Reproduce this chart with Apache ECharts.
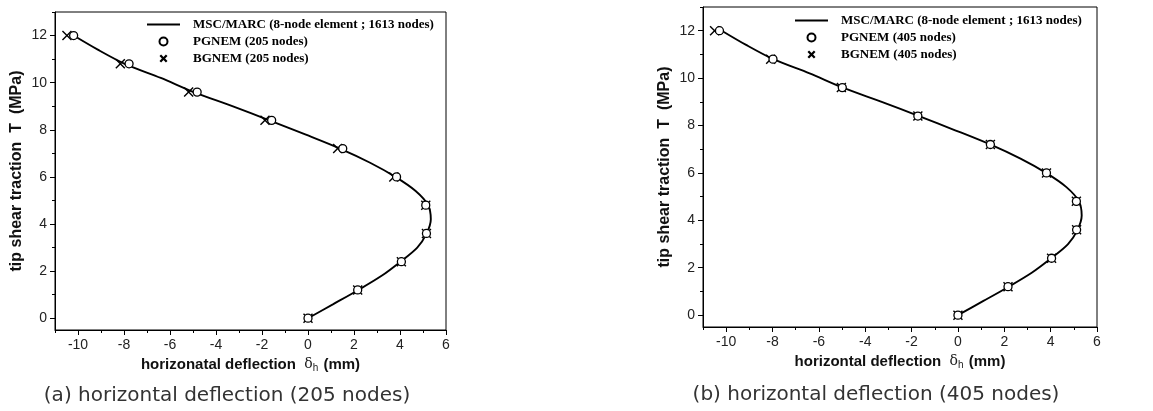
<!DOCTYPE html>
<html>
<head>
<meta charset="utf-8">
<script src="https://cdn.jsdelivr.net/npm/echarts@6/dist/echarts.min.js"></script>
<style>html,body{margin:0;padding:0;background:#fff;}#c{width:1153px;height:411px;}</style>
</head>
<body>
<div id="c"></div>
<script>
// ---- data ----
const traction = [0, 1.2, 2.4, 3.6, 4.8, 6.0, 7.2, 8.4, 9.6, 10.8, 12.0];
const pgnemA = [0, 2.16, 4.06, 5.15, 5.12, 3.85, 1.51, -1.58, -4.82, -7.78, -10.19];
const bgnemA = [0, 2.16, 4.06, 5.15, 5.12, 3.73, 1.29, -1.87, -5.19, -8.16, -10.48];
const pgnemB = [0, 2.16, 4.04, 5.12, 5.11, 3.82, 1.40, -1.73, -4.99, -7.98, -10.29];
const bgnemB = [0, 2.16, 4.04, 5.12, 5.11, 3.82, 1.40, -1.73, -5.03, -8.08, -10.50];
const mscT = [0, 0.6, 1.2, 1.8, 2.4, 3.0, 3.6, 4.2, 4.8, 5.4, 6.0, 6.6, 7.2, 7.8, 8.4, 9.0, 9.6, 10.2, 10.8, 11.4, 12.0];
const mscX = [0, 1.1, 2.19, 3.2, 4.02, 4.75, 5.16, 5.34, 5.22, 4.68, 3.8, 2.7, 1.39, -0.12, -1.68, -3.29, -4.97, -6.4, -7.97, -9.14, -10.19];
const xMajorTicks = [-10, -8, -6, -4, -2, 0, 2, 4, 6];
const xMinorTicks = [-11, -9, -7, -5, -3, -1, 1, 3, 5];
const yMajorTicks = [0, 2, 4, 6, 8, 10, 12];
const yMinorTicks = [1, 3, 5, 7, 9, 11, 13];
const nameMSC = 'MSC/MARC (8-node element ; 1613 nodes)';
const namesA = ['PGNEM (205 nodes)', 'BGNEM (205 nodes)'];
const namesB = ['PGNEM (405 nodes)', 'BGNEM (405 nodes)'];
const xTitles = ['horizonatal deflection', 'horizontal deflection'];
const yTitle = 'tip shear traction  T  (MPa)';
const captions = ['(a) horizontal deflection (205 nodes)', '(b) horizontal deflection (405 nodes)'];

const pair = (xs, ys) => xs.map((x, i) => [x, ys[i]]);
const X_THIN = 'path://M0,1 L1,0 L5,4 L9,0 L10,1 L6,5 L10,9 L9,10 L5,6 L1,10 L0,9 L4,5 Z';
const X_BOLD = 'path://M0,2 L2,0 L5,3 L8,0 L10,2 L7,5 L10,8 L8,10 L5,7 L2,10 L0,8 L3,5 Z';
const LINE_ICON = 'path://M0,0 L33,0 L33,2 L0,2 Z';

const grids = [
  {left: 55, right: 707, top: 12, bottom: 81},
  {left: 703, right: 56, top: 7, bottom: 84}
];
const tickFont = {fontFamily: 'Liberation Sans', fontSize: 14, color: '#222'};

const xAxes = [], yAxes = [];
grids.forEach((g, i) => {
  xAxes.push({
    type: 'value', gridIndex: i, min: -11, max: 6, position: 'bottom',
    name: '{b|' + xTitles[i] + '  }{d|δ}{s|h}{b| (mm)}',
    nameLocation: 'middle', nameGap: 25,
    nameTextStyle: {rich: {
      b: {fontFamily: 'Liberation Sans', fontWeight: 'bold', fontSize: 15, color: '#111', lineHeight: 18},
      d: {fontFamily: 'DejaVu Serif', fontSize: 14, color: '#222', lineHeight: 18},
      s: {fontFamily: 'Liberation Sans', fontSize: 10, color: '#222', lineHeight: 18, verticalAlign: 'bottom', padding: [0, 1, 0, 0]}
    }},
    axisLine: {show: true, onZero: false, lineStyle: {color: '#000', width: 1}},
    axisTick: {show: true, length: 5, customValues: xMajorTicks, lineStyle: {color: '#000'}},
    axisLabel: {customValues: xMajorTicks, margin: 8, ...tickFont},
    splitLine: {show: false}
  });
  xAxes.push({
    type: 'value', gridIndex: i, min: -11, max: 6, position: 'bottom',
    axisLine: {show: false, onZero: false},
    axisTick: {show: true, length: 3, customValues: xMinorTicks, lineStyle: {color: '#000'}},
    axisLabel: {show: false}, splitLine: {show: false}
  });
  yAxes.push({
    type: 'value', gridIndex: i, min: -0.5, max: 13, position: 'left',
    name: yTitle, nameLocation: 'middle', nameGap: 30,
    nameTextStyle: {fontFamily: 'Liberation Sans', fontWeight: 'bold', fontSize: 16, color: '#111'},
    axisLine: {show: true, onZero: false, lineStyle: {color: '#000', width: 1}},
    axisTick: {show: true, length: 5, customValues: yMajorTicks, lineStyle: {color: '#000'}},
    axisLabel: {customValues: yMajorTicks, margin: 8, ...tickFont},
    splitLine: {show: false}
  });
  yAxes.push({
    type: 'value', gridIndex: i, min: -0.5, max: 13, position: 'left',
    axisLine: {show: false, onZero: false},
    axisTick: {show: true, length: 3, customValues: yMinorTicks, lineStyle: {color: '#000'}},
    axisLabel: {show: false}, splitLine: {show: false}
  });
});

function panelSeries(i, pg, bg, names) {
  return [
    {
      name: nameMSC, type: 'line', xAxisIndex: 2 * i, yAxisIndex: 2 * i,
      data: pair(mscX, mscT), smooth: 0.3, symbol: 'none', color: '#000',
      lineStyle: {color: '#000', width: 1.9}, z: 2
    },
    {
      name: names[0], type: 'scatter', xAxisIndex: 2 * i, yAxisIndex: 2 * i,
      data: pair(pg, traction), symbol: 'circle', symbolSize: 8,
      itemStyle: {color: '#fff', borderColor: '#000', borderWidth: 1.3, opacity: 1}, z: 4
    },
    {
      name: names[1], type: 'scatter', xAxisIndex: 2 * i, yAxisIndex: 2 * i,
      data: pair(bg, traction), symbol: X_THIN, symbolSize: 10,
      itemStyle: {color: '#000', opacity: 1}, z: 3
    }
  ];
}

const legendText = {fontFamily: 'Liberation Serif', fontWeight: 'bold', fontSize: 13, color: '#000', padding: [0, 0, 0, 8]};
function legendFor(left, top, names) {
  return {
    left: left, top: top, orient: 'vertical', padding: 0, itemGap: 4,
    itemWidth: 33, itemHeight: 8, selectedMode: false,
    textStyle: legendText,
    data: [
      {name: nameMSC, icon: LINE_ICON, itemStyle: {color: '#000', borderWidth: 0}},
      {name: names[0], icon: 'circle', itemStyle: {color: '#fff', borderColor: '#000', borderWidth: 2}},
      {name: names[1], icon: X_BOLD, itemStyle: {color: '#000'}}
    ]
  };
}

const captionStyle = {fontFamily: 'DejaVu Sans', fontWeight: 'normal', fontSize: 20, color: '#333'};

const chart = echarts.init(document.getElementById('c'), null, {renderer: 'canvas'});
chart.setOption({
  animation: false,
  backgroundColor: '#fff',
  title: [
    {text: captions[0], left: 227, top: 386, textAlign: 'center', padding: 0, textStyle: captionStyle},
    {text: captions[1], left: 876, top: 385, textAlign: 'center', padding: 0, textStyle: captionStyle}
  ],
  grid: grids.map(g => Object.assign({show: true, borderColor: '#000', borderWidth: 1, backgroundColor: 'transparent'}, g)),
  xAxis: xAxes,
  yAxis: yAxes,
  legend: [legendFor(147, 18, namesA), legendFor(795, 14, namesB)],
  series: panelSeries(0, pgnemA, bgnemA, namesA).concat(panelSeries(1, pgnemB, bgnemB, namesB))
});
</script>
</body>
</html>
